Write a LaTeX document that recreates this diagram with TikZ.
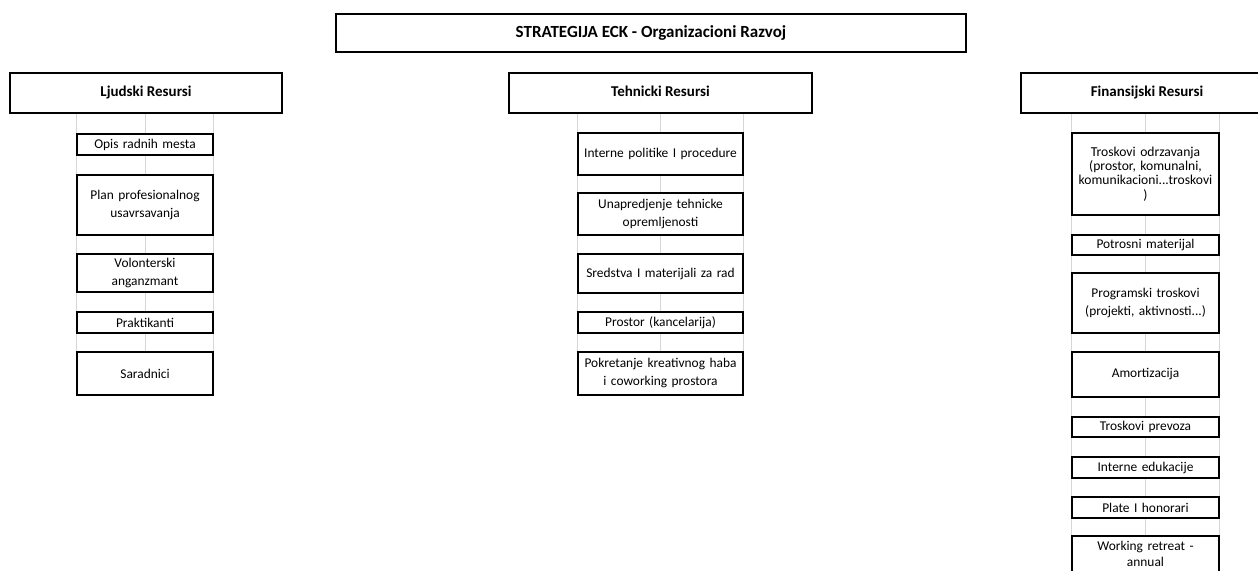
\documentclass[tikz,border=0pt]{standalone}
\usepackage{fontspec}
\setmainfont{Carlito}
\usetikzlibrary{backgrounds}
\definecolor{gridgrey}{RGB}{214,214,214}

\begin{document}
\begin{tikzpicture}[x=0.5pt,y=-0.5pt]

      \useasboundingbox (0,0) rectangle (1258,571);

      \begin{scope}[every node/.style={draw, line width=1pt, fill=white, text height=6pt, text depth=1.8pt, font=\bfseries\fontsize{8.5}{10}\selectfont}]
        \node[minimum width=315pt, minimum height=19pt] (title) at (651,33) {STRATEGIJA ECK - Organizacioni Razvoj};
      \end{scope}

      \begin{scope}[every node/.style={draw, line width=0.9pt, fill=white, minimum height=20pt, text height=5.5pt, text depth=1.6pt, font=\bfseries\fontsize{7.5}{9}\selectfont}]
        \node[minimum width=136pt]   (ljud) at (146,93)   {Ljudski Resursi};
        \node[minimum width=151.5pt] (teh)  at (660.5,93) {Tehnicki Resursi};
        \node[minimum width=126pt]   (fin)  at (1147,93)  {Finansijski Resursi};
      \end{scope}

      \begin{scope}[every node/.style={draw, line width=0.8pt, fill=white, align=center, inner sep=1pt, font=\fontsize{6.7}{9}\selectfont}]

        \begin{scope}[every node/.append style={minimum width=68pt, text width=66pt}]
          \node[minimum height=10.5pt] (l1) at (145,144.5) {Opis radnih mesta};
          \node[minimum height=30pt]   (l2) at (145,205)   {Plan profesionalnog\\usavrsavanja};
          \node[minimum height=19pt]   (l3) at (145,273)   {Volonterski\\anganzmant};
          \node[minimum height=10.5pt] (l4) at (145,322.5) {Praktikanti};
          \node[minimum height=21.5pt] (l5) at (145,373.5) {Saradnici};
        \end{scope}

        \begin{scope}[every node/.append style={minimum width=82.5pt, text width=80.5pt}]
          \node[minimum height=21pt]   (t1) at (660.5,154)   {Interne politike I procedure};
          \node[minimum height=21pt]   (t2) at (660.5,214)   {Unapredjenje tehnicke\\opremljenosti};
          \node[minimum height=19.5pt] (t3) at (660.5,273.5) {Sredstva I materijali za rad};
          \node[minimum height=10.5pt] (t4) at (660.5,322.5) {Prostor (kancelarija)};
          \node[minimum height=21.5pt] (t5) at (660.5,373.5) {Pokretanje kreativnog haba\\i coworking prostora};
        \end{scope}

        \begin{scope}[every node/.append style={minimum width=73.5pt, text width=71.5pt}]
          \node[minimum height=41pt, font=\fontsize{6.8}{7.2}\selectfont] (f1) at (1145.5,174) {Troskovi odrzavanja\\(prostor, komunalni,\\komunikacioni...troskovi\\)};
          \node[minimum height=10pt]   (f2) at (1145.5,245)   {Potrosni materijal};
          \node[minimum height=30pt]   (f3) at (1145.5,303)   {Programski troskovi\\(projekti, aktivnosti...)};
          \node[minimum height=22.5pt] (f4) at (1145.5,374.5) {Amortizacija};
          \node[minimum height=10pt]   (f5) at (1145.5,427)   {Troskovi prevoza};
          \node[minimum height=10.5pt] (f6) at (1145.5,467.5) {Interne edukacije};
          \node[minimum height=10.5pt] (f7) at (1145.5,507.5) {Plate I honorari};
          \node[minimum height=18pt, font=\fontsize{6.7}{8}\selectfont] (f8) at (1145.5,554) {Working retreat -\\annual};
        \end{scope}
      \end{scope}

      \begin{pgfonlayer}{background}
        \begin{scope}[every edge/.style={draw, gridgrey, line width=0.35pt}]
          \path (ljud.south -| l1.west)   edge (l5.south west);
          \path (ljud.south -| l1.center) edge (l5.south);
          \path (ljud.south -| l1.east)   edge (l5.south east);
          \path (teh.south -| t1.west)    edge (t5.south west);
          \path (teh.south -| t1.center)  edge (t5.south);
          \path (teh.south -| t1.east)    edge (t5.south east);
          \path (fin.south -| f1.west)    edge (f8.south west);
          \path (fin.south -| f1.center)  edge (f8.south);
          \path (fin.south -| f1.east)    edge (f8.south east);
        \end{scope}
      \end{pgfonlayer}

    \end{tikzpicture}
\end{document}
